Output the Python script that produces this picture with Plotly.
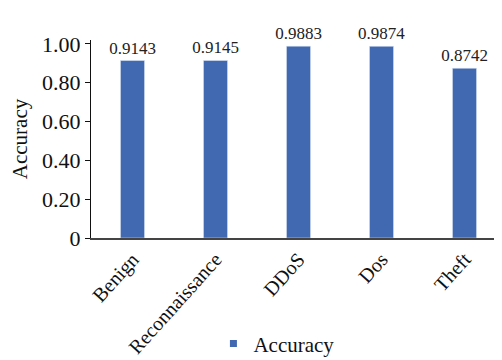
import plotly.graph_objects as go

categories = ["Benign", "Reconnaissance", "DDoS", "Dos", "Theft"]
accuracy = [0.9143, 0.9145, 0.9883, 0.9874, 0.8742]
tick_vals = [0, 0.2, 0.4, 0.6, 0.8, 1.0]
tick_text = ["0", "0.20", "0.40", "0.60", "0.80", "1.00"]

FONT = "Liberation Serif"
BAR = "#4169B1"

fig = go.Figure()
fig.add_trace(go.Bar(
    x=categories, y=accuracy, name="Accuracy", showlegend=False,
    marker=dict(color=BAR),
    text=[f"{v:.4f}" for v in accuracy],
    textposition="outside", cliponaxis=False, constraintext="none",
    textfont=dict(family=FONT, size=17, color="#222222"),
))
# legend entry with a small square swatch
fig.add_trace(go.Scatter(
    x=[None], y=[None], mode="markers", name="Accuracy",
    marker=dict(symbol="square", size=7, color=BAR),
))

fig.update_layout(
    width=502, height=360,
    margin=dict(l=83, r=4, t=32, b=121),
    paper_bgcolor="white", plot_bgcolor="white",
    bargap=0.71,
    showlegend=True,
    legend=dict(orientation="h", x=0.295, xanchor="left", y=-0.535, yanchor="middle",
                font=dict(family=FONT, size=21, color="#111111"),
                itemwidth=30, tracegroupgap=0),
    font=dict(family=FONT, color="#111111"),
)
fig.update_xaxes(
    showline=True, linecolor="#444444", linewidth=1.5,
    tickangle=-48, tickfont=dict(family=FONT, size=20, color="#111111"),
    ticks="", showgrid=False, automargin=False,
)
fig.update_yaxes(
    range=[0, 1.02], tickvals=tick_vals, ticktext=tick_text,
    showline=True, linecolor="#111111", linewidth=1.2,
    ticks="outside", ticklen=5, tickcolor="#111111",
    tickfont=dict(family=FONT, size=22, color="#111111"),
    showgrid=False, zeroline=False, automargin=False,
    title=dict(text="Accuracy", font=dict(family=FONT, size=21, color="#111111"), standoff=14),
)
fig.write_html("out.html")
